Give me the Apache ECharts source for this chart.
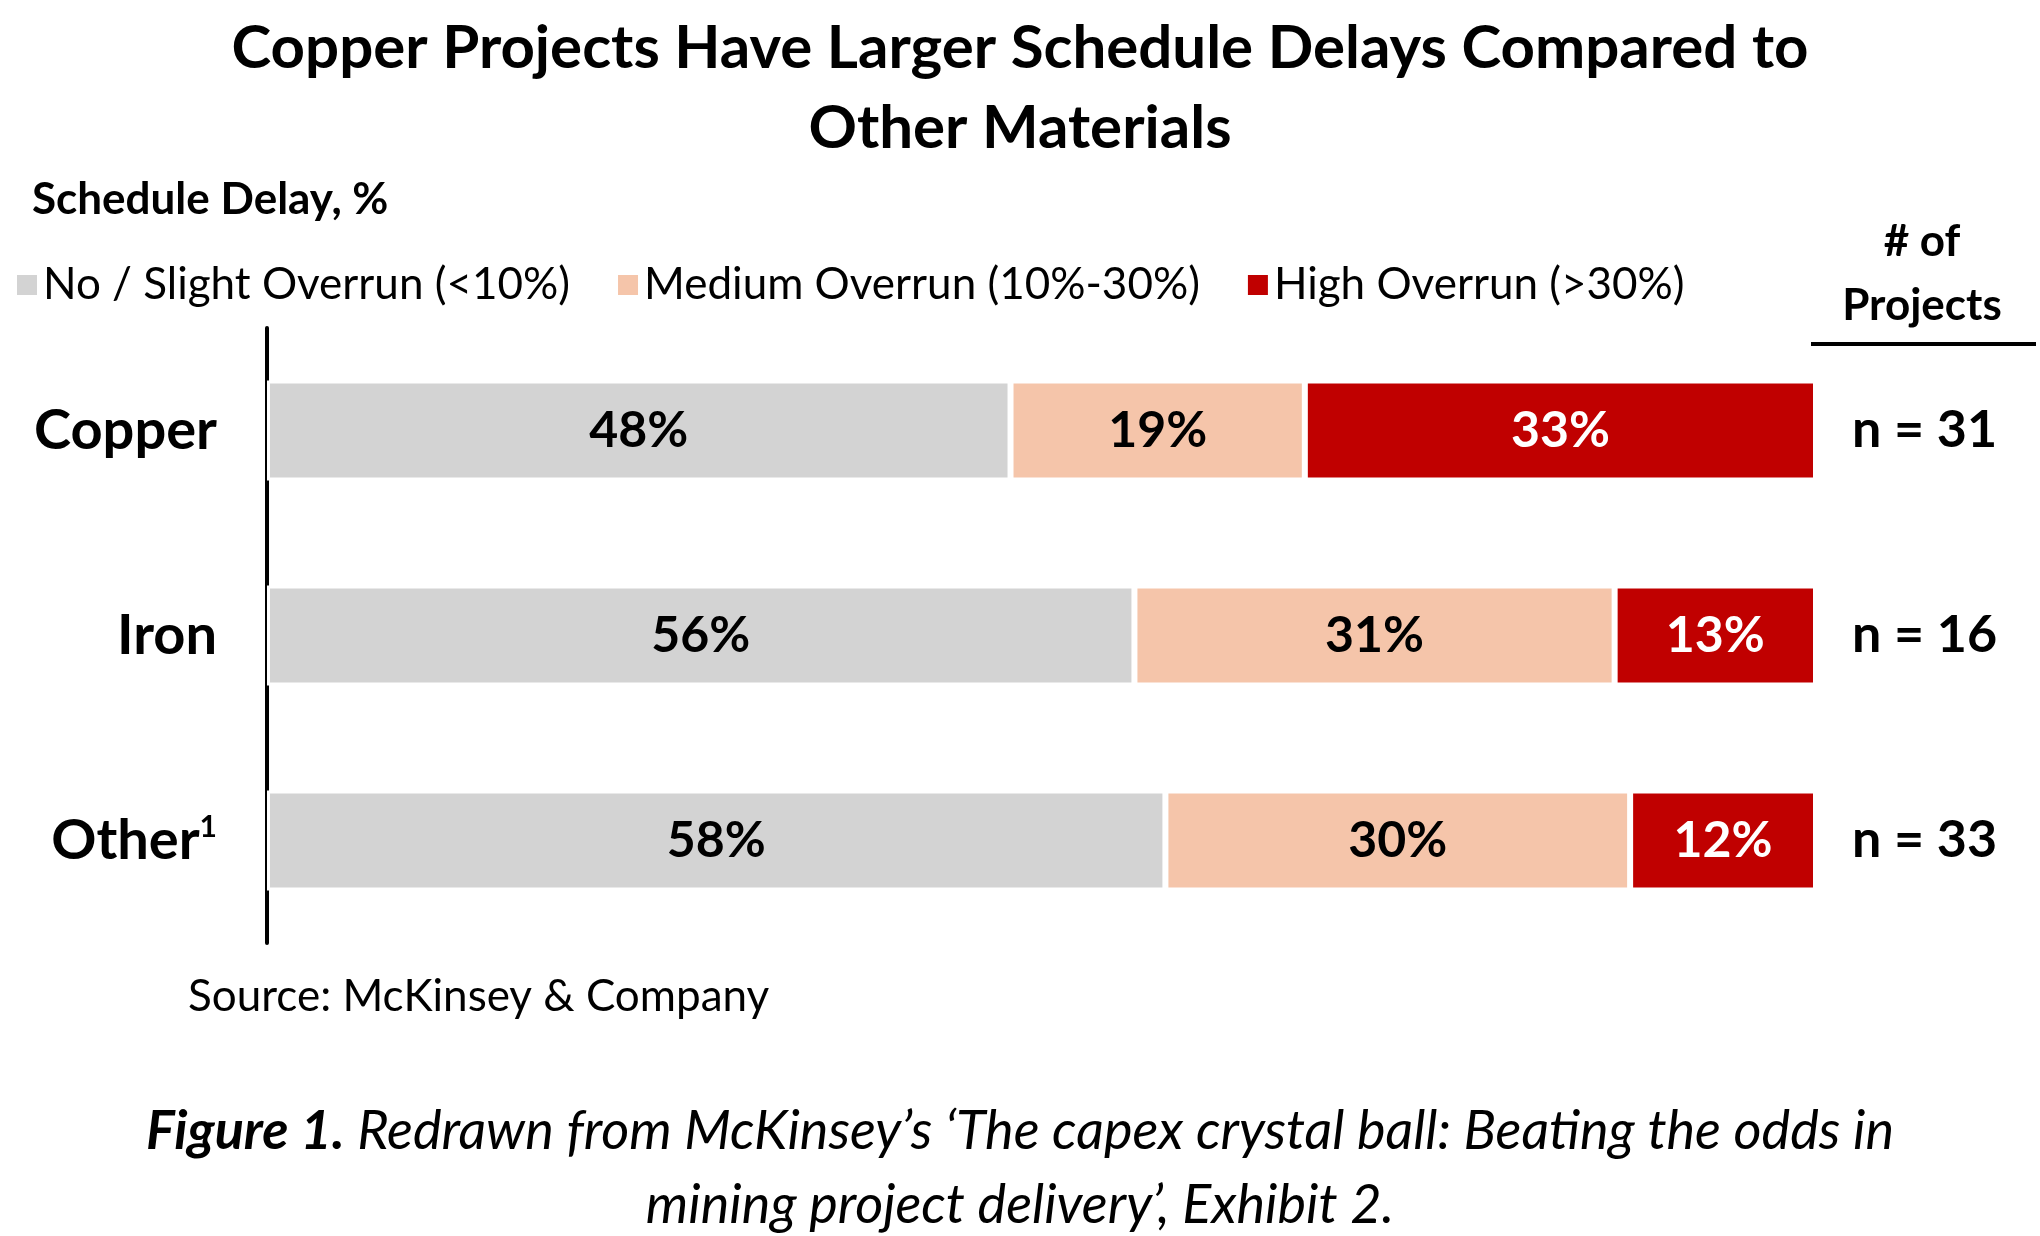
<!DOCTYPE html>
<html><head><meta charset="utf-8">
<script src="https://cdn.jsdelivr.net/npm/echarts@6/dist/echarts.min.js"></script>
<style>html,body{margin:0;padding:0;background:#fff}#c{width:2040px;height:1236px}</style>
</head><body><div id="c"></div>
<script>
const categories = ['Copper', 'Iron', 'Other'];
const nCounts = [31, 16, 33];
const seriesNames = ['No / Slight Overrun (<10%)', 'Medium Overrun (10%-30%)', 'High Overrun (>30%)'];
const lowValues = [48, 56, 58];
const mediumValues = [19, 31, 30];
const highValues = [33, 13, 12];
const colors = ['#d3d3d3', '#f5c5aa', '#c00000'];
const labelColors = ['#000', '#000', '#fff'];
const FF = 'Lato, "Liberation Sans", sans-serif';

const chart = echarts.init(document.getElementById('c'));
const vals = [lowValues, mediumValues, highValues];
chart.setOption({
  backgroundColor: '#fff',
  animation: false,
  title: {
    text: 'Copper Projects Have Larger Schedule Delays Compared to\nOther Materials',
    left: 'center', top: 4,
    textStyle: { fontFamily: FF, fontSize: 60, fontWeight: 'bold', color: '#000', lineHeight: 80 }
  },
  legend: {
    left: 10, top: 258, itemWidth: 22, itemHeight: 22, itemGap: 46, icon: 'rect',
    textStyle: { fontFamily: FF, fontSize: 44, color: '#000' },
    data: seriesNames
  },
  grid: { left: 267, right: 224, top: 328, bottom: 293 },
  xAxis: { type: 'value', min: 0, max: 100, show: false },
  yAxis: [{
    type: 'category', data: categories, inverse: true,
    axisLine: { show: true, lineStyle: { color: '#000', width: 4 } },
    axisTick: { show: false },
    axisLabel: {
      margin: 50,
      formatter: v => v === 'Other' ? '{a|Other}{s|1}' : '{a|' + v + '}',
      rich: { a: { fontFamily: FF, fontSize: 56, fontWeight: 'bold', color: '#000' },
              s: { fontFamily: FF, fontSize: 30, fontWeight: 'bold', color: '#000', verticalAlign: 'top', padding: [0,0,24,0] } }
    }
  }, {
    type: 'category', data: nCounts.map(n => 'n = ' + n), inverse: true, position: 'right',
    axisLine: { show: false }, axisTick: { show: false },
    axisLabel: { margin: 36, fontFamily: FF, fontSize: 52, fontWeight: 'bold', color: '#000' }
  }],
  series: seriesNames.map((name, i) => ({
    name, type: 'bar', stack: 'total', barWidth: 100, data: vals[i],
    itemStyle: { color: colors[i], borderColor: '#fff', borderWidth: 3 },
    label: { show: true, position: 'inside', formatter: '{c}%', fontFamily: FF, fontSize: 50, fontWeight: 'bold', color: labelColors[i] }
  })),
  graphic: [
    { type: 'text', x: 32, y: 178, style: { text: 'Schedule Delay, %', font: 'bold 44px ' + FF, fill: '#000' } },
    { type: 'text', x: 1922, y: 210, style: { text: '# of\nProjects', font: 'bold 44px ' + FF, fill: '#000', textAlign: 'center', lineHeight: 64 } },
    { type: 'line', shape: { x1: 1811, y1: 344, x2: 2036, y2: 344 }, style: { stroke: '#000', lineWidth: 4 } },
    { type: 'text', x: 188, y: 975, style: { text: 'Source: McKinsey & Company', font: '44px ' + FF, fill: '#000' } },
    { type: 'text', x: 1020, y: 1095, style: {
      text: '{b|Figure 1.} Redrawn from McKinsey’s ‘The capex crystal ball: Beating the odds in\nmining project delivery’, Exhibit 2.',
      font: 'italic 54px ' + FF, fill: '#000', textAlign: 'center', lineHeight: 74,
      rich: { b: { font: 'italic bold 54px ' + FF, fill: '#000' } } } }
  ]
});
</script></body></html>
